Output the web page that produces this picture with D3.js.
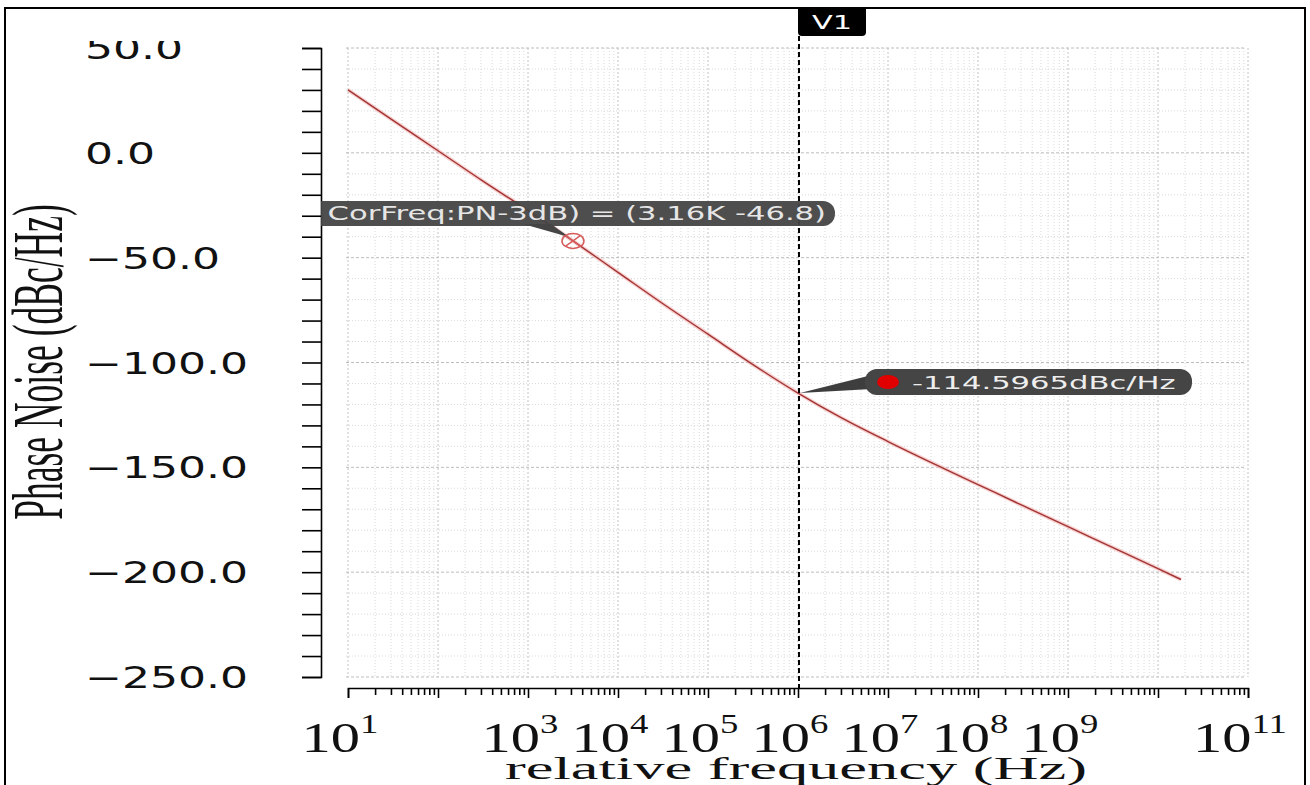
<!DOCTYPE html>
<html><head><meta charset="utf-8">
<script src="https://cdn.jsdelivr.net/npm/d3@7"></script>
<style>html,body{margin:0;padding:0;background:#fff;} svg{display:block}</style>
</head><body><svg id="c" width="1310" height="785"></svg>
<script>
// ---- data ----
const freqHz = [10, 31.6, 100, 316, 1e3, 3.16e3, 1e4, 3.16e4, 1e5, 3.16e5, 1e6, 3.16e6, 1e7, 3.16e7, 1e8, 3.16e8, 1e9, 3.16e9, 1e10, 1.8e10];
const phaseNoise = [30, 15.5, 1, -13.5, -27.5, -42, -57, -72, -86.5, -101, -114.6, -126.8, -137.7, -148.1, -158.2, -168.3, -178.3, -188.3, -198.3, -203.5];
const yTickValues = [50, 0, -50, -100, -150, -200, -250];
const xTickExponents = [1, 3, 4, 5, 6, 7, 8, 9, 11];
const cornerFreq = 3.16e3;
const cornerValue = -42;
const cornerLabel = "CorFreq:PN-3dB) = (3.16K -46.8)";
const v1Freq = 1e6;
const v1Value = -114.5965;
const v1Label = "-114.5965dBc/Hz";
const v1Name = "V1";
const yTitle = "Phase Noise (dBc/Hz)";
const xTitle = "relative frequency (Hz)";

// ---- drawing ----
const svg = d3.select("#c");
const x = d3.scaleLog().domain([10, 1e11]).range([348, 1248]);
const y = d3.scaleLinear().domain([-250, 50]).range([677, 48]);
const sans = "'DejaVu Sans', sans-serif";
const serif = "'Liberation Serif', 'Times New Roman', serif";

// log tick positions
const logTicks = [];
for (let k = 1; k <= 10; k++) for (let m = 1; m <= 9; m++) logTicks.push(m * Math.pow(10, k));
logTicks.push(1e11);
const isDecade = v => Math.abs(Math.log10(v) - Math.round(Math.log10(v))) < 1e-9;

// grid
const grid = svg.append("g");
grid.selectAll("line.v").data(logTicks).join("line")
  .attr("x1", d => x(d)).attr("x2", d => x(d))
  .attr("y1", y(50)).attr("y2", y(-250))
  .attr("stroke", d => isDecade(d) ? "#c4c4c4" : "#dadada")
  .attr("stroke-width", 1)
  .attr("stroke-dasharray", d => isDecade(d) ? "2,2" : "1,2");
grid.selectAll("line.h").data(d3.range(-250, 51, 10)).join("line")
  .attr("x1", x(10) - 2).attr("x2", x(1e11) - 3)
  .attr("y1", d => y(d)).attr("y2", d => y(d))
  .attr("stroke", d => d % 50 === 0 ? "#bdbdbd" : "#dadada")
  .attr("stroke-width", 1)
  .attr("stroke-dasharray", d => d % 50 === 0 ? "3,2" : "1,2");

// y axis
const yAxis = svg.append("g").attr("transform", "translate(321,0)")
  .call(d3.axisLeft(y).tickValues(d3.range(-250, 51, 10)).tickSize(19).tickSizeOuter(19).tickFormat(""));
yAxis.selectAll("path,line").attr("stroke", "#000").attr("stroke-width", 1.6);

// y tick labels (clipped at top)
svg.append("clipPath").attr("id", "ylabclip").append("rect").attr("x", 0).attr("y", 41).attr("width", 320).attr("height", 740);
const fmt = d3.format(".1f");
svg.append("g").attr("clip-path", "url(#ylabclip)")
  .selectAll("text").data(yTickValues).join("text")
  .attr("transform", d => `translate(85,${y(d) + 11}) scale(1.47,1)`)
  .attr("font-family", sans).attr("font-size", 30).attr("fill", "#111")
  .text(d => fmt(d));

// x axis
const xAxis = svg.append("g").attr("transform", "translate(0,688)")
  .call(d3.axisBottom(x).tickValues(logTicks).tickSize(7).tickSizeOuter(10).tickFormat(""));
xAxis.selectAll("path,line").attr("stroke", "#000").attr("stroke-width", 1.6);
xAxis.selectAll(".tick line").attr("y2", d => isDecade(d) ? 10 : 7);

// x tick labels
const xl = svg.append("g").selectAll("text").data(xTickExponents).join("text")
  .attr("transform", d => `translate(${x(Math.pow(10, d)) - 8},752) scale(1.36,1)`)
  .attr("text-anchor", "middle").attr("font-family", serif).attr("font-size", 43).attr("fill", "#111");
xl.append("tspan").text("10");
xl.append("tspan").attr("dy", -19).attr("font-size", 27).text(d => String(d));

// axis titles
svg.append("text").attr("transform", "translate(796,779) scale(1.95,1)")
  .attr("text-anchor", "middle").attr("font-family", serif).attr("font-size", 32).attr("fill", "#111").text(xTitle);
svg.append("text").attr("transform", "translate(62,362) scale(2,1) rotate(-90)")
  .attr("text-anchor", "middle").attr("font-family", serif).attr("font-size", 35.5).attr("fill", "#111").text(yTitle);

// curve
const pts = freqHz.map((f, i) => [f, phaseNoise[i]]);
const line = d3.line().x(d => x(d[0])).y(d => y(d[1])).curve(d3.curveMonotoneX);
svg.append("path").datum(pts).attr("d", line).attr("fill", "none").attr("stroke", "#f4b4b4").attr("stroke-width", 4).attr("opacity", 0.6);
svg.append("path").datum(pts).attr("d", line).attr("fill", "none").attr("stroke", "#a33434").attr("stroke-width", 1.4);

// V1 dashed marker line
const vx = x(v1Freq);
svg.append("line").attr("x1", vx + 1).attr("x2", vx + 1).attr("y1", 36).attr("y2", 690)
  .attr("stroke", "#000").attr("stroke-width", 2).attr("stroke-dasharray", "5,3");

// corner marker + label (clipped at y axis)
const cx = x(cornerFreq), cy = y(cornerValue);
svg.append("clipPath").attr("id", "boxclip").append("rect").attr("x", 321).attr("y", 0).attr("width", 1000).attr("height", 785);
const g1 = svg.append("g").attr("clip-path", "url(#boxclip)");
g1.append("rect").attr("x", 200).attr("y", 201).attr("width", 635).attr("height", 25).attr("rx", 12)
  .attr("fill", "#454545").attr("opacity", 0.95);
g1.append("polygon").attr("points", `${cx - 50},224 ${cx - 22},224 ${cx - 4},${cy - 4}`).attr("fill", "#454545");
g1.append("text").attr("transform", "translate(826,220) scale(1.53,1)")
  .attr("text-anchor", "end").attr("font-family", sans).attr("font-size", 20).attr("fill", "#e6e6e6").text(cornerLabel);
svg.append("ellipse").attr("cx", cx).attr("cy", cy).attr("rx", 11).attr("ry", 7.5)
  .attr("fill", "none").attr("stroke", "#d65a5a").attr("stroke-width", 1.5);
svg.append("path").attr("d", `M${cx - 7},${cy - 5}L${cx + 7},${cy + 5}M${cx - 7},${cy + 5}L${cx + 7},${cy - 5}`)
  .attr("stroke", "#d65a5a").attr("stroke-width", 1.3);

// V1 value label
const py = y(v1Value);
svg.append("polygon").attr("points", `${vx + 2},${py} 872,375 872,389`).attr("fill", "#3e3e3e");
svg.append("rect").attr("x", 865).attr("y", 369).attr("width", 327).attr("height", 26).attr("rx", 12).attr("fill", "#454545");
svg.append("ellipse").attr("cx", 888).attr("cy", 382).attr("rx", 11).attr("ry", 7).attr("fill", "#e00000");
svg.append("text").attr("transform", "translate(912,389) scale(1.7,1)")
  .attr("font-family", sans).attr("font-size", 18).attr("fill", "#eeeeee").text(v1Label);

// V1 tag
svg.append("path").attr("d", `M${vx},8H${vx + 68}V32Q${vx + 68},36 ${vx + 64},36H${vx + 4}Q${vx},36 ${vx},32Z`).attr("fill", "#000");
svg.append("text").attr("transform", `translate(${vx + 34},29) scale(1.6,1)`)
  .attr("text-anchor", "middle").attr("font-family", sans).attr("font-size", 19).attr("fill", "#fff").text(v1Name);

// outer border
svg.append("rect").attr("x", 5).attr("y", 8).attr("width", 1300).attr("height", 790)
  .attr("fill", "none").attr("stroke", "#000").attr("stroke-width", 2);
</script></body></html>
